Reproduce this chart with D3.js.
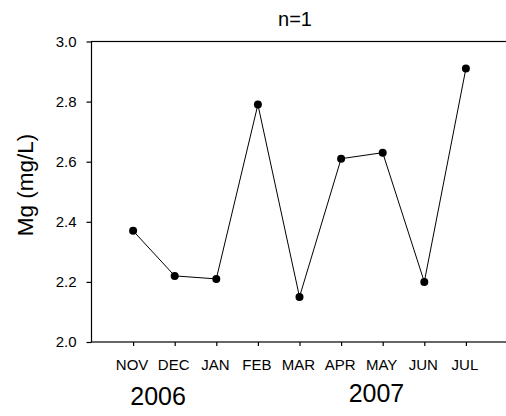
<!DOCTYPE html>
<html>
<head>
<meta charset="utf-8">
<script src="https://cdn.jsdelivr.net/npm/d3@7"></script>
<style>
	body { margin: 0; background: #fff; }
	svg { display: block; font-family: "Liberation Sans", Arial, sans-serif; }
</style>
</head>
<body>
<div id="chart"></div>
<script>

var months = ["NOV", "DEC", "JAN", "FEB", "MAR", "APR", "MAY", "JUN", "JUL"];
var mgValues = [2.37, 2.22, 2.21, 2.79, 2.15, 2.61, 2.63, 2.20, 2.91];
var yTicks = [2.0, 2.2, 2.4, 2.6, 2.8, 3.0];
var years = ["2006", "2007"];

// year labels sit between month positions (x-scale units)
var yearAt = [1.6, 6.85], yearBase = [405, 402];

var width = 506, height = 416,
	plotLeft = 91.5, plotRight = 507.5, plotTop = 41.5, plotBottom = 342;

var x = d3.scaleLinear().domain([0, months.length + 1]).range([plotLeft, plotRight]);
var y = d3.scaleLinear().domain([2.0, 3.0]).range([plotBottom, plotTop]);

var svg = d3.select("#chart")
	.append("svg")
	.attr("width", width)
	.attr("height", height);

// frame
svg.append("rect")
	.attr("x", plotLeft)
	.attr("y", plotTop)
	.attr("width", plotRight - plotLeft)
	.attr("height", plotBottom - plotTop)
	.attr("fill", "none")
	.attr("stroke", "#000")
	.attr("stroke-width", 1.2);

var yAxis = svg.append("g")
	.attr("transform", "translate(" + plotLeft + ",0)")
	.call(d3.axisLeft(y).tickValues(yTicks).tickSize(5).tickPadding(10).tickFormat(d3.format(".1f")));

yAxis.select(".domain").remove();
yAxis.selectAll("line").attr("stroke-width", 1.2);
yAxis.selectAll("text")
	.attr("font-size", "15px")
	.attr("font-family", "Liberation Sans, Arial, sans-serif")
	.attr("fill", "#000");

var xAxis = svg.append("g")
	.attr("transform", "translate(0," + plotBottom + ")")
	.call(d3.axisBottom(x).tickValues(d3.range(1, months.length + 1)).tickSize(4).tickFormat(""));

xAxis.select(".domain").remove();
xAxis.selectAll("line").attr("stroke-width", 1.2);

svg.append("g")
	.selectAll("text")
	.data(months)
	.enter().append("text")
		.attr("x", function(d, i) { return x(i + 1) - 1; })
		.attr("y", 369.5)
		.attr("text-anchor", "middle")
		.attr("font-size", "15px")
		.text(function(d) { return d; });

svg.append("g")
	.selectAll("text")
	.data(years)
	.enter().append("text")
		.attr("x", function(d, i) { return x(yearAt[i]); })
		.attr("y", function(d, i) { return yearBase[i]; })
		.attr("text-anchor", "middle")
		.attr("font-size", "25px")
		.text(function(d) { return d; });

var line = d3.line()
	.x(function(d, i) { return x(i + 1); })
	.y(function(d) { return y(d); });

svg.append("path")
	.datum(mgValues)
	.attr("d", line)
	.attr("fill", "none")
	.attr("stroke", "#000")
	.attr("stroke-width", 1);

svg.append("g")
	.selectAll("circle")
	.data(mgValues)
	.enter().append("circle")
		.attr("cx", function(d, i) { return x(i + 1); })
		.attr("cy", function(d) { return y(d); })
		.attr("r", 4)
		.attr("fill", "#000");

svg.append("text")
	.attr("transform", "translate(33,185) rotate(-90)")
	.attr("text-anchor", "middle")
	.attr("font-size", "22.5px")
	.text("Mg (mg/L)");

svg.append("text")
	.attr("x", 295)
	.attr("y", 26)
	.attr("text-anchor", "middle")
	.attr("font-size", "20px")
	.text("n=1");

</script>
</body>
</html>
